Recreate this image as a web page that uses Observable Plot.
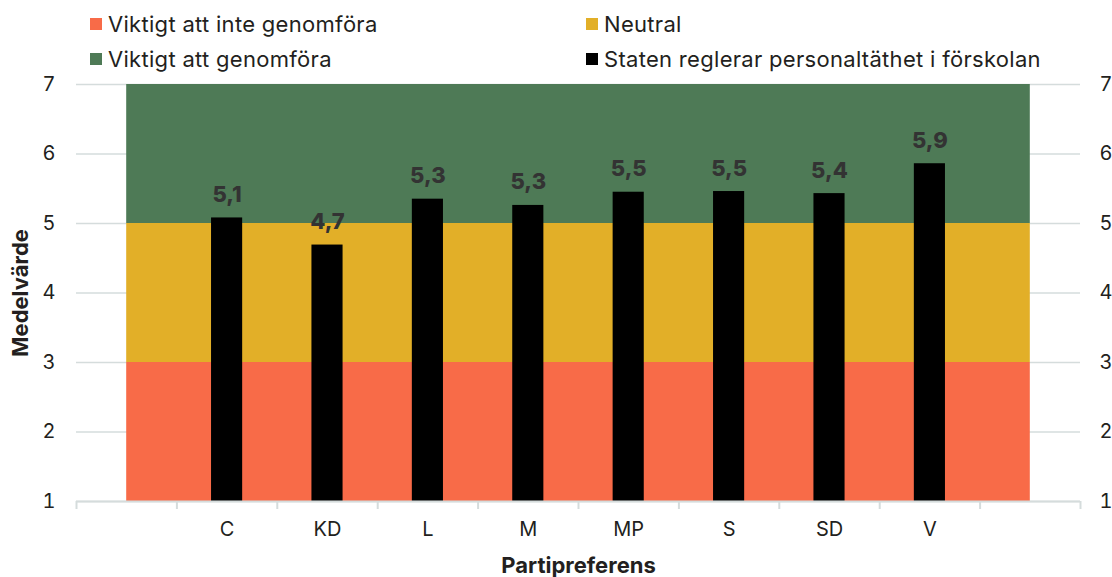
<!DOCTYPE html>
<html><head><meta charset="utf-8">
<script src="https://cdn.jsdelivr.net/npm/d3@7"></script>
<script src="https://cdn.jsdelivr.net/npm/@observablehq/plot@0.6"></script>
<style>
body{margin:0;overflow:hidden;background:#fff;font-family:Inter,sans-serif;color:#231f20}
#legend{position:relative;height:78px}
.item{position:absolute;display:flex;align-items:center;font-size:22px;line-height:24px;white-space:nowrap;letter-spacing:0.3px}
.sw{width:12px;height:12px;margin-right:6px;flex:none}
</style></head><body>
<div id="legend"></div><div id="chart"></div>
<script>
const categories = ["C","KD","L","M","MP","S","SD","V"];
const values = [5.08, 4.69, 5.35, 5.26, 5.45, 5.46, 5.43, 5.86];
const valueLabels = ["5,1","4,7","5,3","5,3","5,5","5,5","5,4","5,9"];
const zoneNames = ["Viktigt att inte genomföra","Neutral","Viktigt att genomföra"];
const zoneFrom = [1, 3, 5];
const zoneTo = [3, 5, 7];
const zoneColors = ["#f86b48","#e2af28","#4e7a56"];
const seriesName = "Staten reglerar personaltäthet i förskolan";
const seriesColor = "#000000";
const yTicks = [1,2,3,4,5,6,7];
const xTitle = "Partipreferens";
const yTitle = "Medelvärde";

// legend
const legendItems = [
  {name: zoneNames[0], color: zoneColors[0], left: 90, top: 12},
  {name: zoneNames[1], color: zoneColors[1], left: 586, top: 12},
  {name: zoneNames[2], color: zoneColors[2], left: 90, top: 47},
  {name: seriesName, color: seriesColor, left: 586, top: 47}
];
const leg = document.getElementById("legend");
for (const it of legendItems) {
  const d = document.createElement("div");
  d.className = "item";
  d.style.left = it.left + "px";
  d.style.top = it.top + "px";
  const s = document.createElement("span");
  s.className = "sw"; s.style.background = it.color;
  d.appendChild(s);
  d.appendChild(document.createTextNode(it.name));
  leg.appendChild(d);
}

const slots = categories.length + 2;
const bars = categories.map((c, i) => ({cat: c, pos: i + 1.5, value: values[i], label: valueLabels[i]}));
const zones = zoneNames.map((n, i) => ({name: n, from: zoneFrom[i], to: zoneTo[i]}));
const half = 0.155;

const chart = Plot.plot({
  width: 1112,
  height: 499,
  marginLeft: 76,
  marginRight: 32,
  marginTop: 6,
  marginBottom: 76,
  style: {fontFamily: "Inter, sans-serif", fontSize: "19px", color: "#231f20", background: "white", overflow: "visible"},
  x: {type: "linear", domain: [0, slots], axis: null},
  y: {domain: [1, 7], axis: null},
  color: {domain: [...zoneNames, seriesName], range: [...zoneColors, seriesColor]},
  marks: [
    Plot.ruleY(yTicks, {stroke: "#d5dcdc", strokeWidth: 1.5}),
    Plot.rect(zones, {x1: 0.5, x2: slots - 0.5, y1: "from", y2: "to", fill: "name"}),
    Plot.rect(bars, {x1: d => d.pos - half, x2: d => d.pos + half, y1: 1, y2: "value", fill: () => seriesName}),
    Plot.ruleY([1], {stroke: "#d5dcdc", strokeWidth: 2}),
    Plot.axisX(d3.range(0, slots + 1), {tickSize: 8, tickFormat: () => "", stroke: "#d5dcdc", strokeWidth: 2, label: null}),
    Plot.axisX(bars.map(d => d.pos), {tickSize: 0, tickPadding: 20, tickFormat: p => categories[Math.round(p - 1.5)], label: null, fontSize: 20}),
    Plot.axisY(yTicks, {anchor: "left", tickSize: 0, tickPadding: 21, tickFormat: d => String(d), label: null, fontSize: 20}),
    Plot.axisY(yTicks, {anchor: "right", tickSize: 0, tickPadding: 19, tickFormat: d => String(d), label: null, fontSize: 20}),
    Plot.text(bars, {x: "pos", y: "value", text: "label", lineAnchor: "bottom", dy: -16, fontWeight: 800, fontSize: 22, fill: "#333333"}),
    Plot.text([xTitle], {text: d => d, frameAnchor: "bottom", lineAnchor: "middle", dy: 64, fontWeight: 700, fontSize: 22}),
    Plot.text([yTitle], {text: d => d, frameAnchor: "left", rotate: -90, textAnchor: "middle", lineAnchor: "middle", dx: -56, fontWeight: 700, fontSize: 22})
  ]
});
document.getElementById("chart").appendChild(chart);
</script>
</body></html>
